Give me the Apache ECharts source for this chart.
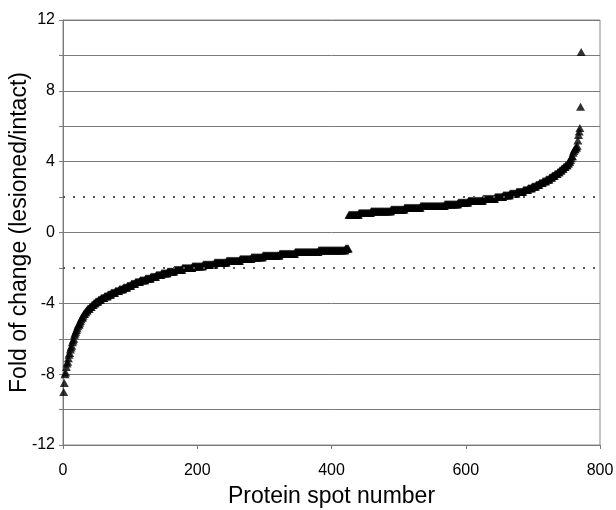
<!DOCTYPE html>
<html>
<head>
<meta charset="utf-8">
<script src="https://cdn.jsdelivr.net/npm/echarts@6/dist/echarts.min.js"></script>
<style>
  html, body { margin: 0; padding: 0; background: #fff; }
  #main { width: 616px; height: 510px; }
</style>
</head>
<body>
<div id="main"></div>
<script>
// fold changes, sorted, spots 1..425 (decreased)
var lowerFold = [
    -9.0, -8.5, -8.0, -7.9, -7.6, -7.4, -7.3, -7.1, -6.9, -6.8,
    -6.6, -6.5, -6.4, -6.2, -6.1, -6.0, -5.8, -5.7, -5.6, -5.5,
    -5.4, -5.3, -5.2, -5.2, -5.1, -5.0, -4.9, -4.8, -4.8, -4.7,
    -4.6, -4.6, -4.5, -4.5, -4.4, -4.4, -4.3, -4.3, -4.3, -4.2,
    -4.2, -4.2, -4.1, -4.1, -4.1, -4.0, -4.0, -4.0, -3.9, -3.9,
    -3.9, -3.9, -3.8, -3.8, -3.8, -3.8, -3.7, -3.7, -3.7, -3.7,
    -3.7, -3.6, -3.6, -3.6, -3.6, -3.6, -3.5, -3.5, -3.5, -3.5,
    -3.5, -3.4, -3.4, -3.4, -3.4, -3.4, -3.4, -3.3, -3.3, -3.3,
    -3.3, -3.3, -3.3, -3.2, -3.2, -3.2, -3.2, -3.2, -3.2, -3.1,
    -3.1, -3.1, -3.1, -3.1, -3.1, -3.0, -3.0, -3.0, -3.0, -3.0,
    -3.0, -2.9, -2.9, -2.9, -2.9, -2.9, -2.9, -2.8, -2.8, -2.8,
    -2.8, -2.8, -2.8, -2.8, -2.7, -2.7, -2.7, -2.7, -2.7, -2.7,
    -2.7, -2.7, -2.6, -2.6, -2.6, -2.6, -2.6, -2.6, -2.6, -2.6,
    -2.5, -2.5, -2.5, -2.5, -2.5, -2.5, -2.5, -2.5, -2.4, -2.4,
    -2.4, -2.4, -2.4, -2.4, -2.4, -2.4, -2.3, -2.3, -2.3, -2.3,
    -2.3, -2.3, -2.3, -2.3, -2.3, -2.2, -2.2, -2.2, -2.2, -2.2,
    -2.2, -2.2, -2.2, -2.2, -2.2, -2.1, -2.1, -2.1, -2.1, -2.1,
    -2.1, -2.1, -2.1, -2.1, -2.1, -2.1, -2.1, -2.0, -2.0, -2.0,
    -2.0, -2.0, -2.0, -2.0, -2.0, -2.0, -2.0, -2.0, -2.0, -2.0,
    -2.0, -2.0, -1.9, -1.9, -1.9, -1.9, -1.9, -1.9, -1.9, -1.9,
    -1.9, -1.9, -1.9, -1.9, -1.9, -1.9, -1.9, -1.9, -1.8, -1.8,
    -1.8, -1.8, -1.8, -1.8, -1.8, -1.8, -1.8, -1.8, -1.8, -1.8,
    -1.8, -1.8, -1.8, -1.8, -1.8, -1.7, -1.7, -1.7, -1.7, -1.7,
    -1.7, -1.7, -1.7, -1.7, -1.7, -1.7, -1.7, -1.7, -1.7, -1.7,
    -1.7, -1.7, -1.7, -1.6, -1.6, -1.6, -1.6, -1.6, -1.6, -1.6,
    -1.6, -1.6, -1.6, -1.6, -1.6, -1.6, -1.6, -1.6, -1.6, -1.6,
    -1.6, -1.6, -1.6, -1.5, -1.5, -1.5, -1.5, -1.5, -1.5, -1.5,
    -1.5, -1.5, -1.5, -1.5, -1.5, -1.5, -1.5, -1.5, -1.5, -1.5,
    -1.4, -1.4, -1.4, -1.4, -1.4, -1.4, -1.4, -1.4, -1.4, -1.4,
    -1.4, -1.4, -1.4, -1.4, -1.4, -1.4, -1.4, -1.3, -1.3, -1.3,
    -1.3, -1.3, -1.3, -1.3, -1.3, -1.3, -1.3, -1.3, -1.3, -1.3,
    -1.3, -1.3, -1.3, -1.3, -1.3, -1.3, -1.3, -1.3, -1.3, -1.3,
    -1.3, -1.3, -1.2, -1.2, -1.2, -1.2, -1.2, -1.2, -1.2, -1.2,
    -1.2, -1.2, -1.2, -1.2, -1.2, -1.2, -1.2, -1.2, -1.2, -1.2,
    -1.2, -1.2, -1.2, -1.2, -1.2, -1.1, -1.1, -1.1, -1.1, -1.1,
    -1.1, -1.1, -1.1, -1.1, -1.1, -1.1, -1.1, -1.1, -1.1, -1.1,
    -1.1, -1.1, -1.1, -1.1, -1.1, -1.1, -1.1, -1.1, -1.1, -1.1,
    -1.1, -1.1, -1.1, -1.1, -1.1, -1.1, -1.1, -1.1, -1.1, -1.1,
    -1.0, -1.0, -1.0, -1.0, -1.0, -1.0, -1.0, -1.0, -1.0, -1.0,
    -1.0, -1.0, -1.0, -1.0, -1.0, -1.0, -1.0, -1.0, -1.0, -1.0,
    -1.0, -1.0, -1.0, -1.0, -1.0, -1.0, -1.0, -1.0, -1.0, -1.0,
    -1.0, -1.0, -1.0, -1.0, -1.0, -1.0, -1.0, -1.0, -1.0, -1.0,
    -0.9, -0.9, -0.9, -0.9, -0.9
]

// fold changes, sorted, spots 426..772 (increased)
var upperFold = [
    1.0, 1.0, 1.0, 1.0, 1.0, 1.0, 1.0, 1.0, 1.0, 1.0,
    1.0, 1.0, 1.0, 1.0, 1.0, 1.1, 1.1, 1.1, 1.1, 1.1,
    1.1, 1.1, 1.1, 1.1, 1.1, 1.1, 1.1, 1.1, 1.1, 1.1,
    1.1, 1.1, 1.1, 1.2, 1.2, 1.2, 1.2, 1.2, 1.2, 1.2,
    1.2, 1.2, 1.2, 1.2, 1.2, 1.2, 1.2, 1.2, 1.2, 1.2,
    1.2, 1.2, 1.2, 1.2, 1.2, 1.2, 1.2, 1.2, 1.2, 1.2,
    1.2, 1.2, 1.2, 1.3, 1.3, 1.3, 1.3, 1.3, 1.3, 1.3,
    1.3, 1.3, 1.3, 1.3, 1.3, 1.3, 1.3, 1.3, 1.3, 1.3,
    1.3, 1.3, 1.3, 1.4, 1.4, 1.4, 1.4, 1.4, 1.4, 1.4,
    1.4, 1.4, 1.4, 1.4, 1.4, 1.4, 1.4, 1.4, 1.4, 1.4,
    1.4, 1.4, 1.4, 1.4, 1.4, 1.4, 1.4, 1.5, 1.5, 1.5,
    1.5, 1.5, 1.5, 1.5, 1.5, 1.5, 1.5, 1.5, 1.5, 1.5,
    1.5, 1.5, 1.5, 1.5, 1.5, 1.5, 1.5, 1.5, 1.5, 1.5,
    1.5, 1.5, 1.5, 1.5, 1.5, 1.5, 1.5, 1.5, 1.5, 1.5,
    1.5, 1.5, 1.5, 1.6, 1.6, 1.6, 1.6, 1.6, 1.6, 1.6,
    1.6, 1.6, 1.6, 1.6, 1.6, 1.6, 1.6, 1.6, 1.6, 1.6,
    1.6, 1.6, 1.6, 1.7, 1.7, 1.7, 1.7, 1.7, 1.7, 1.7,
    1.7, 1.7, 1.7, 1.7, 1.7, 1.7, 1.7, 1.7, 1.8, 1.8,
    1.8, 1.8, 1.8, 1.8, 1.8, 1.8, 1.8, 1.8, 1.8, 1.8,
    1.8, 1.8, 1.8, 1.8, 1.8, 1.8, 1.8, 1.8, 1.8, 1.8,
    1.9, 1.9, 1.9, 1.9, 1.9, 1.9, 1.9, 1.9, 1.9, 1.9,
    1.9, 1.9, 1.9, 1.9, 1.9, 1.9, 1.9, 1.9, 2.0, 2.0,
    2.0, 2.0, 2.0, 2.0, 2.0, 2.0, 2.0, 2.0, 2.0, 2.0,
    2.1, 2.1, 2.1, 2.1, 2.1, 2.1, 2.1, 2.1, 2.1, 2.1,
    2.2, 2.2, 2.2, 2.2, 2.2, 2.2, 2.2, 2.2, 2.2, 2.2,
    2.3, 2.3, 2.3, 2.3, 2.3, 2.3, 2.3, 2.3, 2.3, 2.3,
    2.4, 2.4, 2.4, 2.4, 2.4, 2.4, 2.4, 2.5, 2.5, 2.5,
    2.5, 2.5, 2.5, 2.6, 2.6, 2.6, 2.6, 2.6, 2.6, 2.7,
    2.7, 2.7, 2.7, 2.7, 2.8, 2.8, 2.8, 2.8, 2.8, 2.9,
    2.9, 2.9, 2.9, 2.9, 3.0, 3.0, 3.0, 3.0, 3.0, 3.1,
    3.1, 3.1, 3.1, 3.2, 3.2, 3.2, 3.2, 3.3, 3.3, 3.3,
    3.3, 3.4, 3.4, 3.4, 3.5, 3.5, 3.5, 3.6, 3.6, 3.6,
    3.7, 3.7, 3.7, 3.8, 3.8, 3.8, 3.9, 3.9, 4.0, 4.0,
    4.1, 4.2, 4.3, 4.3, 4.5, 4.6, 4.7, 4.7, 4.8, 4.8,
    4.9, 5.2, 5.5, 5.7, 5.9, 7.1, 10.2
]

var xTicks = [0, 200, 400, 600, 800]
var yLabelled = [-12, -8, -4, 0, 4, 8, 12]
var yDotted = [2, -2]

var chartFold = () => {
    var element = document.querySelector('#main')
    var myChart = echarts.init(element)

    var points = lowerFold.concat(upperFold).map((v, i) => [i + 1, v])

    // 网格线：±2 处用虚线代替
    var gridColors = []
    for (var y = -12; y <= 12; y += 2) {
        gridColors.push(yDotted.indexOf(y) >= 0 ? 'rgba(0,0,0,0)' : '#7a7a7a')
    }

    var font = 'Liberation Sans'
    var option = {
        animation: false,
        grid: {
            left: 63, right: 16, top: 20, bottom: 65,
            outerBoundsMode: 'none',
            containLabel: false,
            show: true, borderColor: '#8a8a8a', borderWidth: 1,
        },
        xAxis: {
            type: 'value',
            min: xTicks[0],
            max: xTicks[xTicks.length - 1],
            interval: 200,
            name: 'Protein spot number',
            nameLocation: 'middle',
            nameGap: 40,
            nameMoveOverlap: false,
            nameTextStyle: { fontFamily: font, fontSize: 23, color: '#000' },
            axisLine: { onZero: false, lineStyle: { color: '#7a7a7a' } },
            axisTick: { length: 4, lineStyle: { color: '#7a7a7a' } },
            axisLabel: { fontFamily: font, fontSize: 16, color: '#000', margin: 18 },
            splitLine: { show: false },
        },
        yAxis: {
            type: 'value',
            min: -12,
            max: 12,
            interval: 2,
            name: 'Fold of change (lesioned/intact)',
            nameLocation: 'middle',
            nameGap: 32,
            nameMoveOverlap: false,
            nameTextStyle: { fontFamily: font, fontSize: 23, color: '#000' },
            axisLine: { show: true, onZero: false, lineStyle: { color: '#7a7a7a' } },
            axisTick: { show: true, length: 4, lineStyle: { color: '#7a7a7a' } },
            axisLabel: {
                fontFamily: font, fontSize: 16, color: '#000', margin: 8,
                formatter: (v) => yLabelled.indexOf(v) >= 0 ? String(v) : '',
            },
            splitLine: { show: true, lineStyle: { color: gridColors, width: 1 } },
        },
        series: [
            {
                type: 'line',
                data: [],
                z: 1,
                markLine: {
                    silent: true,
                    symbol: 'none',
                    label: { show: false },
                    lineStyle: { color: '#555', type: [2, 8], width: 2 },
                    data: yDotted.map((v) => ({ yAxis: v })),
                },
            },
            {
                type: 'scatter',
                z: 3,
                symbol: 'triangle',
                symbolSize: [9, 8],
                itemStyle: { color: '#000' },
                data: points,
            },
        ],
    }
    myChart.setOption(option)
}

chartFold()
</script>
</body>
</html>
